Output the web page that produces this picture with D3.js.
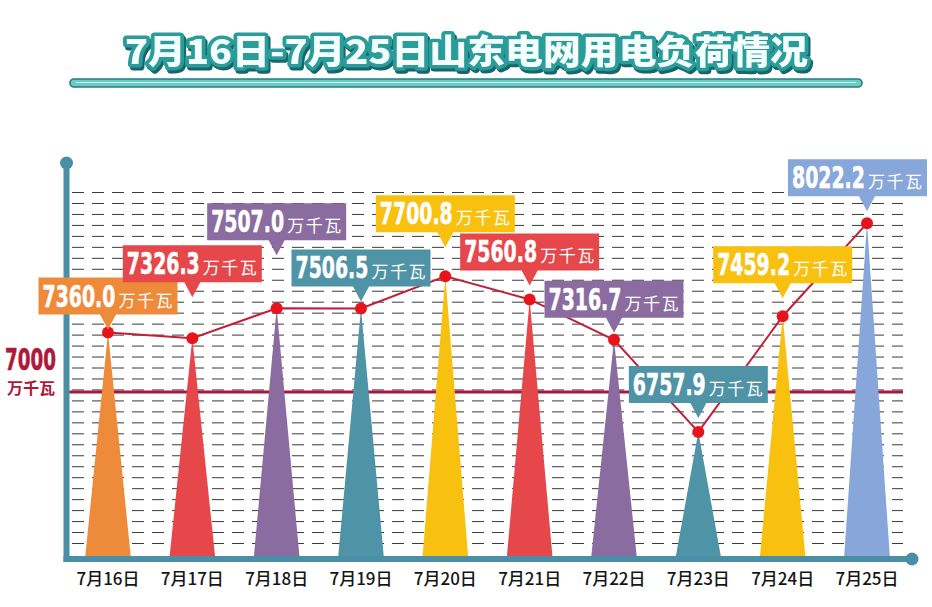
<!DOCTYPE html>
<html>
<head>
<meta charset="utf-8">
<script src="https://cdn.jsdelivr.net/npm/d3@7"></script>
<style>
  html, body { margin: 0; padding: 0; background: #fff; }
  svg { display: block; }
</style>
</head>
<body>
<script>
// data
const days = ["7月16日", "7月17日", "7月18日", "7月19日", "7月20日",
              "7月21日", "7月22日", "7月23日", "7月24日", "7月25日"];
const loads = [7360.0, 7326.3, 7507.0, 7506.5, 7700.8, 7560.8, 7316.7, 6757.9, 7459.2, 8022.2];
const refLoad = 7000;
const unitLabel = "万千瓦";
const titleText = "7月16日-7月25日山东电网用电负荷情况";

// styling
const palette = ["#ee8b3a", "#e5474a", "#8a6ca1", "#4f93a7", "#f8c10f",
                 "#e5474a", "#8a6ca1", "#4f93a7", "#f8c10f", "#87a6d9"];
// how high each callout box sits above its point
const lift = [18, 56, 68, 22, 44, 29, 22, 29, 33, 27];

const W = 932, H = 607;
const teal = "#4b8fa6";
const numFont = "'DejaVu Sans', sans-serif";
const cjkFont = "'Noto Sans CJK SC', 'Noto Sans', sans-serif";

const svg = d3.select("body").append("svg")
  .attr("width", W)
  .attr("height", H);

const x = d3.scalePoint().domain(days).range([108, 867]);
const y = d3.scaleLinear().domain([7000, 8000]).range([392, 227]);
const axisY = 559, axisX = 66.5;

// squeeze a bold number into a given width (no narrow font installed)
function squeeze(sel, width) {
  sel.each(function () {
    const len = this.getComputedTextLength();
    const x0 = +this.getAttribute("x");
    d3.select(this).attr("transform",
      `translate(${x0},0) scale(${width / len},1) translate(${-x0},0)`);
  });
}

// ---- title ----
svg.append("text")
  .attr("x", 125).attr("y", 64)
  .attr("textLength", 683).attr("lengthAdjust", "spacingAndGlyphs")
  .style("font-family", cjkFont).style("font-weight", 900).style("font-size", "34px")
  .style("paint-order", "stroke")
  .style("filter", "drop-shadow(2px 3px 0 #17676a)")
  .attr("fill", "#f4fffd").attr("stroke", "#2a9c99").attr("stroke-width", 7)
  .attr("stroke-linejoin", "round")
  .text(titleText);

svg.append("rect")
  .attr("x", 70).attr("y", 79).attr("width", 792).attr("height", 8).attr("rx", 4)
  .attr("fill", "#6cccc4").attr("stroke", "#1f7f80").attr("stroke-width", 1.6);
svg.append("line")
  .attr("x1", 76).attr("x2", 856).attr("y1", 82.5).attr("y2", 82.5)
  .attr("stroke", "#d6f5f1").attr("stroke-width", 1.2);

// ---- dashed grid ----
const grid = d3.scaleLinear().domain([0, 32]).range([192.5, 543.5]);
svg.append("g").selectAll("line")
  .data(d3.range(33))
  .join("line")
  .attr("x1", 72).attr("x2", 903)
  .attr("y1", d => grid(d)).attr("y2", d => grid(d))
  .attr("stroke", "#3a3a3a").attr("stroke-width", 1)
  .attr("stroke-dasharray", "12 8");

// reference line at 7000
svg.append("line")
  .attr("x1", axisX).attr("x2", 903)
  .attr("y1", y(refLoad)).attr("y2", y(refLoad))
  .attr("stroke", "#a8183c").attr("stroke-width", 3);

svg.append("text")
  .attr("x", 5).attr("y", y(refLoad) - 22)
  .style("font-family", numFont).style("font-weight", "bold").style("font-size", "30px")
  .attr("fill", "#b0183a").attr("stroke", "#b0183a").attr("stroke-width", 0.6)
  .text(refLoad)
  .call(squeeze, 51);
svg.append("text")
  .attr("x", 31).attr("y", y(refLoad) + 2)
  .attr("text-anchor", "middle")
  .style("font-family", cjkFont).style("font-weight", "bold").style("font-size", "16px")
  .attr("fill", "#b0183a")
  .text(unitLabel);

// ---- spikes ----
svg.append("g").selectAll("path")
  .data(loads)
  .join("path")
  .attr("d", (d, i) => {
    const cx = x(days[i]);
    return `M${cx - 23},${axisY}L${cx},${y(d)}L${cx + 23},${axisY}Z`;
  })
  .attr("fill", (d, i) => palette[i]);

// ---- axes ----
svg.append("line")
  .attr("x1", axisX).attr("x2", axisX).attr("y1", 163).attr("y2", axisY + 3)
  .attr("stroke", teal).attr("stroke-width", 6);
svg.append("circle").attr("cx", axisX).attr("cy", 163).attr("r", 6.5).attr("fill", teal);
svg.append("line")
  .attr("x1", axisX - 3).attr("x2", 912).attr("y1", axisY).attr("y2", axisY)
  .attr("stroke", teal).attr("stroke-width", 6);
svg.append("circle").attr("cx", 912).attr("cy", axisY).attr("r", 6.5).attr("fill", teal);

svg.append("g").selectAll("text")
  .data(days)
  .join("text")
  .attr("x", d => x(d)).attr("y", 585)
  .attr("text-anchor", "middle")
  .style("font-family", cjkFont).style("font-size", "17px").style("font-weight", 500)
  .attr("fill", "#151515")
  .text(d => d);

// ---- load line ----
svg.append("path")
  .datum(loads)
  .attr("fill", "none")
  .attr("stroke", "#c0213a")
  .attr("stroke-width", 2)
  .attr("d", d3.line().x((d, i) => x(days[i])).y(d => y(d)));

svg.append("g").selectAll("circle")
  .data(loads)
  .join("circle")
  .attr("cx", (d, i) => x(days[i]))
  .attr("cy", d => y(d))
  .attr("r", 6)
  .attr("fill", "#e8141c");

// ---- callouts ----
const boxW = 139, boxH = 37, tipH = 15;
const boxLeft = i => Math.min(x(days[i]) - boxW / 2, W - 5 - boxW);

const callouts = svg.append("g").selectAll("g")
  .data(loads)
  .join("g")
  .attr("transform", (d, i) => `translate(${boxLeft(i)},${y(d) - lift[i] - boxH})`);

callouts.append("path")
  .attr("d", (d, i) => {
    const px = x(days[i]) - boxLeft(i);
    return `M0,0H${boxW}V${boxH}H${px + 8}L${px},${boxH + tipH}L${px - 8},${boxH}H0Z`;
  })
  .attr("fill", (d, i) => palette[i]);

callouts.append("text")
  .attr("x", 4).attr("y", 29)
  .style("font-family", numFont).style("font-weight", "bold").style("font-size", "30px")
  .attr("fill", "#fff").attr("stroke", "#fff").attr("stroke-width", 0.6)
  .text(d => d3.format(".1f")(d))
  .call(squeeze, 73);

callouts.append("text")
  .attr("x", 80).attr("y", 29)
  .style("font-family", cjkFont).style("font-size", "17px")
  .style("letter-spacing", "1.5px")
  .attr("fill", "#fff")
  .text(unitLabel);
</script>
</body>
</html>
